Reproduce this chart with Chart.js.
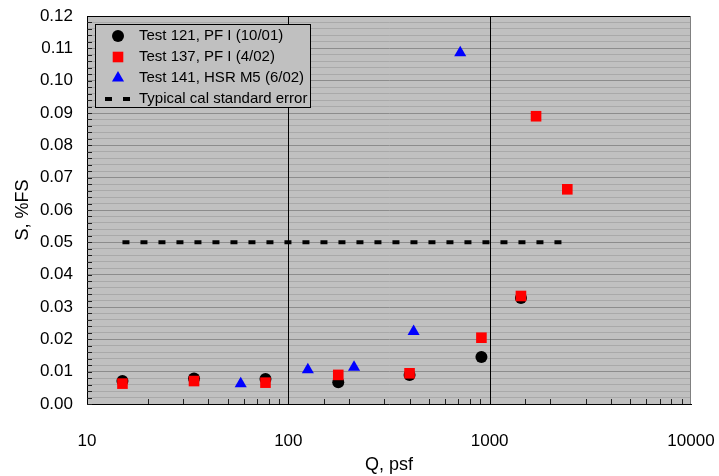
<!DOCTYPE html>
<html>
<head>
<meta charset="utf-8">
<script src="https://cdn.jsdelivr.net/npm/chart.js@4/dist/chart.umd.min.js"></script>
<style>
  body { margin: 0; background: #fff; }
  canvas { display: block; }
</style>
</head>
<body>
<canvas id="chart" width="719" height="476"></canvas>
<script>
// Data
const test121Q = [15, 34, 77, 177, 400, 910, 1430];
const test121S = [0.0071, 0.0079, 0.0077, 0.0067, 0.0090, 0.0145, 0.0328];

const test137Q = [15, 34, 77, 177, 400, 910, 1430, 1700, 2430];
const test137S = [0.0063, 0.0071, 0.0066, 0.0090, 0.0095, 0.0205, 0.0334, 0.0890, 0.0664];

const test141Q = [58, 125, 212, 419, 714];
const test141S = [0.0063, 0.0106, 0.0114, 0.0224, 0.1086];

const calQ = [15, 2400];
const calS = [0.05, 0.05];

const xTickLabels = [10, 100, 1000, 10000];
const yMin = 0, yMax = 0.12, yStep = 0.002;

const FONT = "'Liberation Sans', Arial, sans-serif";

function toPoints(xs, ys) {
  return xs.map((x, i) => ({ x: x, y: ys[i] }));
}

function isDecade(v) {
  const l = Math.log10(v);
  return Math.abs(l - Math.round(l)) < 1e-9;
}

function isMajorY(v) {
  return Math.round(v * 1000) % 10 === 0;
}

// grey plot background, decade lines, inner ticks, top/right frame
const frame = {
  id: "frame",
  beforeDraw(chart) {
    const { ctx, chartArea: a } = chart;
    ctx.save();
    ctx.fillStyle = "#c0c0c0";
    ctx.fillRect(a.left, a.top, a.right - a.left, a.bottom - a.top);
    ctx.restore();
  },
  beforeDatasetsDraw(chart) {
    const { ctx, chartArea: a, scales } = chart;
    ctx.save();
    ctx.strokeStyle = "#000";
    ctx.lineWidth = 1;
    ctx.beginPath();
    scales.x.ticks.forEach(t => {
      if (!isDecade(t.value) || t.value <= 10 || t.value >= 10000) return;
      const x = Math.round(scales.x.getPixelForValue(t.value)) + 0.5;
      ctx.moveTo(x, a.top);
      ctx.lineTo(x, a.bottom);
    });
    ctx.stroke();
    ctx.restore();
  },
  afterDatasetsDraw(chart) {
    const { ctx, chartArea: a, scales } = chart;
    ctx.save();
    ctx.strokeStyle = "#202020";
    ctx.lineWidth = 1;
    ctx.beginPath();
    scales.y.ticks.forEach(t => {
      const y = Math.round(scales.y.getPixelForValue(t.value)) + 0.5;
      ctx.moveTo(a.left, y);
      ctx.lineTo(a.left + 5, y);
    });
    scales.x.ticks.forEach(t => {
      if (isDecade(t.value)) return;
      const x = Math.round(scales.x.getPixelForValue(t.value)) + 0.5;
      ctx.moveTo(x, a.bottom);
      ctx.lineTo(x, a.bottom - 5);
    });
    ctx.stroke();
    ctx.beginPath();
    ctx.strokeStyle = "#000";
    ctx.moveTo(a.left, a.top + 0.5);
    ctx.lineTo(a.right, a.top + 0.5);
    ctx.stroke();
    ctx.beginPath();
    ctx.strokeStyle = "#808080";
    ctx.moveTo(a.right - 0.5, a.top);
    ctx.lineTo(a.right - 0.5, a.bottom);
    ctx.stroke();
    ctx.restore();
  }
};

// legend box in the upper left of the plot
const boxLegend = {
  id: "boxLegend",
  afterDraw(chart) {
    const { ctx, chartArea: a } = chart;
    const x0 = a.left + 8, y0 = a.top + 8, w = 215, h = 83;
    ctx.save();
    ctx.fillStyle = "#c0c0c0";
    ctx.fillRect(x0, y0, w, h);
    ctx.strokeStyle = "#000";
    ctx.lineWidth = 1;
    ctx.strokeRect(x0 + 0.5, y0 + 0.5, w, h);
    ctx.font = "15px " + FONT;
    ctx.textBaseline = "middle";
    ctx.textAlign = "left";
    chart.data.datasets.forEach((ds, row) => {
      const cy = y0 + 12 + row * 21;
      const mx = x0 + 23;
      if (ds.showLine) {
        ctx.strokeStyle = ds.borderColor;
        ctx.lineWidth = ds.borderWidth;
        ctx.setLineDash(ds.borderDash);
        ctx.beginPath();
        ctx.moveTo(x0 + 10, cy);
        ctx.lineTo(x0 + 38, cy);
        ctx.stroke();
        ctx.setLineDash([]);
      } else {
        ctx.fillStyle = ds.backgroundColor;
        ctx.strokeStyle = ds.borderColor;
        Chart.helpers.drawPoint(ctx, {
          pointStyle: ds.pointStyle,
          radius: ds.pointRadius,
          rotation: 0,
          borderWidth: 0
        }, mx, cy);
      }
      ctx.fillStyle = "#000";
      ctx.fillText(ds.label, x0 + 44, cy);
    });
    ctx.restore();
  }
};

new Chart(document.getElementById("chart"), {
  type: "scatter",
  data: {
    datasets: [
      {
        label: "Test 121, PF I (10/01)",
        data: toPoints(test121Q, test121S),
        pointStyle: "circle",
        pointRadius: 6,
        backgroundColor: "#000000",
        borderColor: "#000000",
        borderWidth: 0,
        order: 3
      },
      {
        label: "Test 137, PF I (4/02)",
        data: toPoints(test137Q, test137S),
        pointStyle: "rect",
        pointRadius: 7.5,
        backgroundColor: "#ff0000",
        borderColor: "#ff0000",
        borderWidth: 0,
        order: 2
      },
      {
        label: "Test 141, HSR M5 (6/02)",
        data: toPoints(test141Q, test141S),
        pointStyle: "triangle",
        pointRadius: 7,
        backgroundColor: "#0000ff",
        borderColor: "#0000ff",
        borderWidth: 0,
        order: 1
      },
      {
        label: "Typical cal standard error",
        data: toPoints(calQ, calS),
        showLine: true,
        pointRadius: 0,
        borderColor: "#000000",
        borderWidth: 4,
        borderDash: [7, 11],
        order: 4
      }
    ]
  },
  plugins: [frame, boxLegend],
  options: {
    responsive: false,
    animation: false,
    events: [],
    layout: { padding: { top: 16, right: 28, left: 0, bottom: 0 } },
    plugins: {
      legend: { display: false },
      tooltip: { enabled: false }
    },
    scales: {
      x: {
        type: "logarithmic",
        min: 10,
        max: 10000,
        afterFit(scale) {
          scale.height = 72;
          scale.paddingLeft = 0;
          scale.paddingRight = 0;
        },
        border: { color: "#000", width: 1 },
        grid: { display: false },
        ticks: {
          autoSkip: false,
          maxRotation: 0,
          padding: 19,
          color: "#000",
          font: { family: FONT, size: 17 },
          callback: v => xTickLabels.includes(v) ? String(v) : ""
        },
        title: {
          display: true,
          text: "Q, psf",
          color: "#000",
          font: { family: FONT, size: 18 },
          padding: { top: 0, bottom: 0 }
        }
      },
      y: {
        min: yMin,
        max: yMax,
        afterFit(scale) {
          scale.width = 87;
          scale.paddingTop = 0;
          scale.paddingBottom = 0;
        },
        border: { color: "#000", width: 1 },
        grid: {
          drawTicks: false,
          color: ctx => ctx.tick && isMajorY(ctx.tick.value) ? "#8c8c8c" : "#a9a9a9",
          lineWidth: 1
        },
        ticks: {
          stepSize: yStep,
          autoSkip: false,
          padding: 14,
          color: "#000",
          font: { family: FONT, size: 17 },
          callback: v => isMajorY(v) ? v.toFixed(2) : ""
        },
        title: {
          display: true,
          text: "S, %FS",
          color: "#000",
          font: { family: FONT, size: 18 },
          padding: { top: 12, bottom: 0 }
        }
      }
    }
  }
});
</script>
</body>
</html>
